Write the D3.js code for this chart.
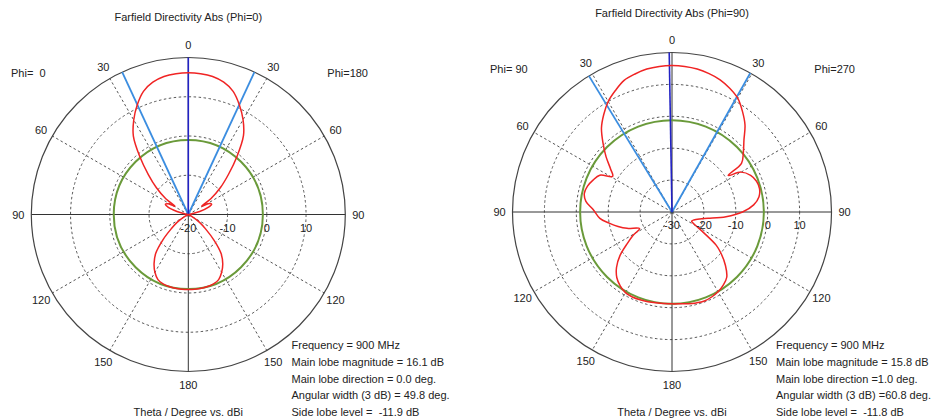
<!DOCTYPE html>
<html>
<head>
<meta charset="utf-8">
<title>Farfield Directivity Abs</title>
<style>
  body { margin: 0; background: #fff; }
  svg text { font-family: "Liberation Sans", Arial, sans-serif; font-size: 11px; fill: #222; white-space: pre; }
</style>
</head>
<body>
<div id="chart"></div>
<script src="https://cdn.jsdelivr.net/npm/d3@7"></script>
<script>
// ---- cut Phi=0 / Phi=180 (left plot), theta in deg, directivity in dBi
var thetaA = [0, 5, 10, 15, 20, 25, 30, 35, 40, 45, 50, 55, 58, 62, 66, 70, 75, 80, 85, 90,
              100, 110, 115, 120, 125, 130, 135, 140, 145, 150, 155, 160, 165, 170, 175, 180];
var phi0   = [16.1, 16.0, 15.7, 14.9, 13.4, 10.8, 7.8, 4.4, -0.8, -5.6, -9.4, -13.0, -16.0, -14.2, -13.6, -14.5, -17.0, -19.5, -21, -22,
              -22, -21, -20, -19, -16.5, -14.3, -10.8, -7.1, -4.8, -3.0, -1.7, -1.2, -1.0, -0.9, -0.9, -0.9];
var phi180 = [16.1, 16.0, 15.7, 14.9, 13.4, 10.8, 7.9, 4.5, -0.7, -5.5, -9.3, -13.0, -16.0, -14.0, -13.5, -14.5, -17.0, -19.5, -21, -22,
              -22, -21, -20, -19, -16.5, -14.2, -10.7, -7.0, -4.7, -3.0, -1.7, -1.2, -1.0, -0.9, -0.9, -0.9];

// ---- cut Phi=90 / Phi=270 (right plot)
var theta90 = [0, 5, 10, 15, 20, 25, 30, 35, 40, 45, 50, 55, 59, 63, 68, 73, 78, 83, 88, 95,
               100, 105, 110, 117, 121, 125, 130, 135, 140, 145, 150, 155, 160, 165, 170, 175, 180];
var phi90   = [15.9, 15.8, 15.5, 14.8, 13.9, 12.0, 10.0, 7.3, 4.4, 0.6, -3.0, -6.5, -8.3, -4.6, -3.3, -2.3, -1.9, -2.8, -5.2, -7.3,
               -10.0, -12.5, -15.0, -18.6, -15.8, -13.0, -8.7, -5.4, -3.1, -1.7, -0.8, -0.6, -0.7, -0.9, -1.1, -1.2, -1.2];
var theta270 = [0, 5, 10, 15, 20, 25, 30, 35, 40, 45, 50, 55, 57, 60, 65, 70, 75, 80, 85, 90,
                95, 100, 104, 110, 115, 120, 123, 127, 130, 135, 140, 145, 150, 155, 160, 165, 170, 175, 180];
var phi270   = [15.9, 15.8, 15.5, 14.9, 14.1, 12.8, 11.2, 8.5, 5.6, 1.9, -0.8, -3.4, -9.0, -5.0, -2.8, -1.8, -1.6, -2.3, -4.3, -7.9,
                -13.0, -18.5, -21.0, -22.7, -23.2, -21.2, -18.4, -12.6, -10.0, -6.3, -3.3, -2.0, -1.1, -0.6, -0.3, -0.5, -0.8, -1.1, -1.2];

var angleTicks = [0, 30, 60, 90, 120, 150, 180];
var ringsA = [-20, -10, 0, 10, 20];
var ringsB = [-30, -20, -10, 0, 10, 20];

var infoA = ["Frequency = 900 MHz", "Main lobe magnitude = 16.1 dB", "Main lobe direction = 0.0 deg.",
             "Angular width (3 dB) = 49.8 deg.", "Side lobe level =  -11.9 dB"];
var infoB = ["Frequency = 900 MHz", "Main lobe magnitude = 15.8 dB", "Main lobe direction =1.0 deg.",
             "Angular width (3 dB) =60.8 deg.", "Side lobe level =  -11.8 dB"];

var svg = d3.select('#chart')
    .append('svg')
    .attr('width', 939)
    .attr('height', 420);

function drawPolar(o) {
    var g = svg.append('g').attr('transform', 'translate(' + o.cx + ',' + o.cy + ')');
    var r = d3.scaleLinear().domain([o.rings[0], o.rings[o.rings.length - 1]]).range([0, o.R]).clamp(true);
    var rad = function (a) { return a * Math.PI / 180; };
    var px = function (a, rr) { return rr * Math.sin(rad(a)); };
    var py = function (a, rr) { return -rr * Math.cos(rad(a)); };

    // dashed rings (inner ones)
    g.selectAll('circle.ring')
        .data(o.rings.slice(1, -1))
        .enter().append('circle')
        .attr('r', function (d) { return r(d); })
        .attr('fill', 'none')
        .attr('stroke', '#555')
        .attr('stroke-width', 1)
        .attr('stroke-dasharray', '2.5,2.5');

    // dashed radial lines
    var radials = [];
    angleTicks.forEach(function (t) {
        if (t % 90 !== 0) { radials.push(t); radials.push(-t); }
    });
    g.selectAll('line.radial')
        .data(radials)
        .enter().append('line')
        .attr('x1', 0).attr('y1', 0)
        .attr('x2', function (d) { return px(d, o.R); })
        .attr('y2', function (d) { return py(d, o.R); })
        .attr('stroke', '#555')
        .attr('stroke-width', 1)
        .attr('stroke-dasharray', '2.5,2.5');

    // solid axes
    g.selectAll('line.axis')
        .data([[0, 180], [-90, 90]])
        .enter().append('line')
        .attr('x1', function (d) { return px(d[0], o.R); })
        .attr('y1', function (d) { return py(d[0], o.R); })
        .attr('x2', function (d) { return px(d[1], o.R); })
        .attr('y2', function (d) { return py(d[1], o.R); })
        .attr('stroke', '#333')
        .attr('stroke-width', 1);

    g.append('circle')
        .attr('r', o.R)
        .attr('fill', 'none')
        .attr('stroke', '#444')
        .attr('stroke-width', 1.2);

    // green reference circle
    g.append('circle')
        .attr('r', r(o.green))
        .attr('fill', 'none')
        .attr('stroke', '#6a9a3a')
        .attr('stroke-width', 2);

    // beam lines
    var half = o.width / 2;
    g.selectAll('line.beam')
        .data([o.dir - half, o.dir + half])
        .enter().append('line')
        .attr('x1', 0).attr('y1', 0)
        .attr('x2', function (d) { return px(d, o.R); })
        .attr('y2', function (d) { return py(d, o.R); })
        .attr('stroke', '#3b8de0')
        .attr('stroke-width', 1.8);
    g.append('line')
        .attr('x1', 0).attr('y1', 0)
        .attr('x2', px(o.dir, o.R))
        .attr('y2', py(o.dir, o.R))
        .attr('stroke', '#2222c4')
        .attr('stroke-width', 1.6);

    // pattern curve: right half 0..180, then left half back 180..0
    var pts = [];
    o.thetaR.forEach(function (t, i) { pts.push([t, o.valR[i]]); });
    for (var i = o.thetaL.length - 2; i > 0; i--) {
        pts.push([-o.thetaL[i], o.valL[i]]);
    }
    var line = d3.lineRadial()
        .angle(function (d) { return rad(d[0]); })
        .radius(function (d) { return r(d[1]); })
        .curve(d3.curveCatmullRomClosed.alpha(0.5));
    g.append('path')
        .attr('d', line(pts))
        .attr('fill', 'none')
        .attr('stroke', '#f02424')
        .attr('stroke-width', 1.5);

    // angle labels
    var labs = [];
    angleTicks.forEach(function (t) {
        labs.push(t);
        if (t !== 0 && t !== 180) labs.push(-t);
    });
    g.selectAll('text.ang')
        .data(labs)
        .enter().append('text')
        .attr('x', function (d) { return px(d, o.R + 13); })
        .attr('y', function (d) { return py(d, o.R + 13); })
        .attr('text-anchor', 'middle')
        .attr('dominant-baseline', 'central')
        .text(function (d) { return Math.abs(d); });

    // dB labels along the horizontal axis
    g.selectAll('text.db')
        .data(o.rings.slice(0, -1))
        .enter().append('text')
        .attr('x', function (d) { return r(d); })
        .attr('y', 13)
        .attr('text-anchor', 'middle')
        .attr('dominant-baseline', 'central')
        .text(function (d) { return d; });

    svg.append('text')
        .attr('x', o.cx).attr('y', o.titleY)
        .attr('text-anchor', 'middle')
        .attr('dominant-baseline', 'central')
        .text(o.title);
    svg.append('text')
        .attr('x', o.phiL[1]).attr('y', o.phiY)
        .attr('dominant-baseline', 'central')
        .text(o.phiL[0]);
    svg.append('text')
        .attr('x', o.phiR[1]).attr('y', o.phiY)
        .attr('text-anchor', 'end')
        .attr('dominant-baseline', 'central')
        .text(o.phiR[0]);
    svg.append('text')
        .attr('x', o.cx).attr('y', 412)
        .attr('text-anchor', 'middle')
        .attr('dominant-baseline', 'central')
        .text('Theta / Degree vs. dBi');

    svg.selectAll(null)
        .data(o.info)
        .enter().append('text')
        .attr('x', o.infoX)
        .attr('y', function (d, i) { return 345 + i * 16.8; })
        .attr('dominant-baseline', 'central')
        .text(function (d) { return d; });
}

drawPolar({
    cx: 188.3, cy: 214.5, R: 157, rings: ringsA, green: -1.0,
    thetaR: thetaA, valR: phi180, thetaL: thetaA, valL: phi0,
    dir: 0, width: 49.8,
    title: 'Farfield Directivity Abs (Phi=0)', titleY: 17,
    phiL: ['Phi=  0', 11], phiR: ['Phi=180', 368], phiY: 73,
    info: infoA, infoX: 291.5
});

drawPolar({
    cx: 672, cy: 212, R: 159.5, rings: ringsB, green: -1.2,
    thetaR: theta270, valR: phi270, thetaL: theta90, valL: phi90,
    dir: -1.0, width: 60.8,
    title: 'Farfield Directivity Abs (Phi=90)', titleY: 12.5,
    phiL: ['Phi= 90', 490], phiR: ['Phi=270', 855], phiY: 69,
    info: infoB, infoX: 776
});
</script>
</body>
</html>
